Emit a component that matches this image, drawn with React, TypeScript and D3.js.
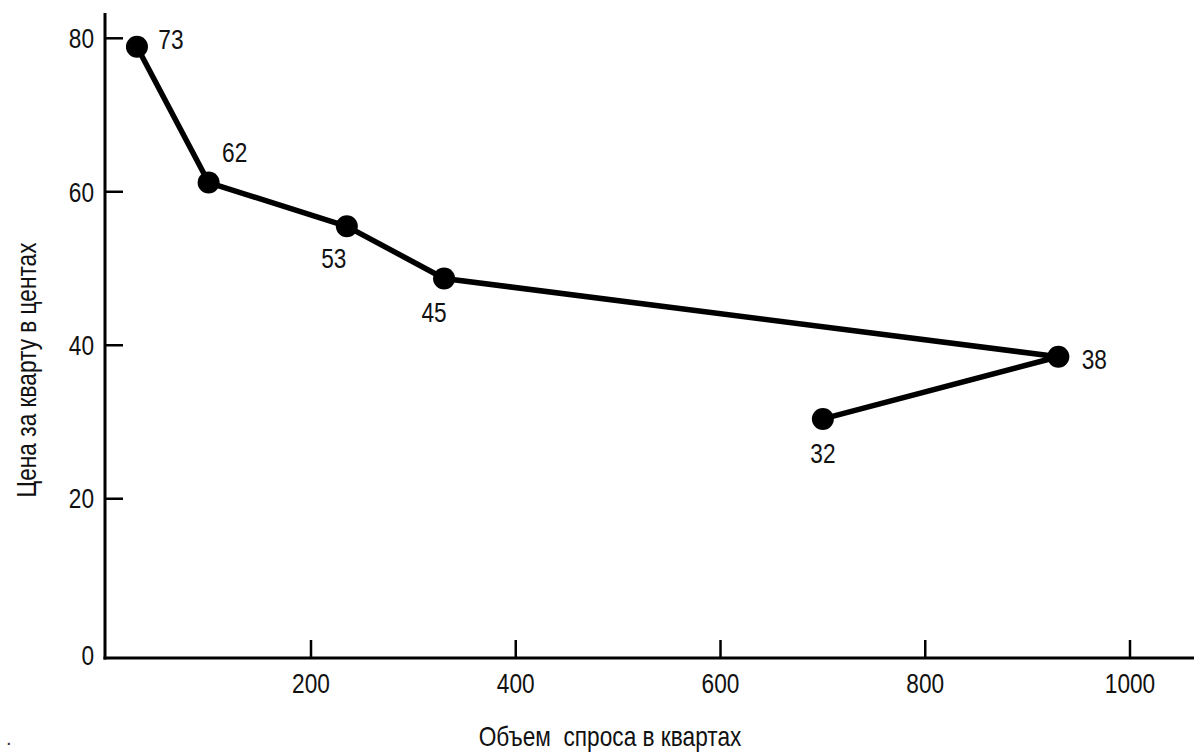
import React from "react";
import * as d3 from "d3";

const volumes = [30, 100, 235, 330, 930, 700];
const prices = [78.9, 61.2, 55.5, 48.7, 38.5, 30.4];
const pointLabels = ["73", "62", "53", "45", "38", "32"];
const labelOffsets: [number, number][] = [
  [34, -7],
  [26, -30],
  [-13, 32],
  [-10, 34],
  [36, 2],
  [0, 34],
];
const xTicks = [200, 400, 600, 800, 1000];
const yTicks = [0, 20, 40, 60, 80];
const xTitle = "Объем  спроса в квартах";
const yTitle = "Цена за кварту в центах";

const W = 1194;
const H = 752;
const FONT = "'Liberation Sans', Arial, sans-serif";
const FS = 27;
const SX = 0.84;

function NText(props: {
  x: number;
  y: number;
  rotate?: number;
  anchor?: "start" | "middle" | "end";
  central?: boolean;
  size?: number;
  children: React.ReactNode;
}) {
  const { x, y, rotate = 0, anchor = "middle", central = false, size = FS, children } = props;
  return (
    <text
      transform={`translate(${x},${y}) rotate(${rotate}) scale(${SX},1)`}
      textAnchor={anchor}
      dominantBaseline={central ? "central" : "auto"}
      fontSize={size}
      fill="#111"
      style={{ whiteSpace: "pre" }}
    >
      {children}
    </text>
  );
}

export default function App() {
  const x = d3.scaleLinear().domain([0, 1000]).range([106.25, 1130]);
  const y = d3.scaleLinear().domain([0, 80]).range([652.2, 38.3]);
  const axisY = 658;
  const axisX = 105;

  const pts = volumes.map((v, i) => ({ v, p: prices[i], label: pointLabels[i], off: labelOffsets[i] }));
  const line = d3
    .line<{ v: number; p: number }>()
    .x((d) => x(d.v))
    .y((d) => y(d.p));

  return (
    <svg
      width={W}
      height={H}
      style={{ position: "absolute", left: 0, top: 0, background: "#fff" }}
      fontFamily={FONT}
    >
      <rect width={W} height={H} fill="#fff" />
      {/* axes */}
      <line x1={axisX} y1={13} x2={axisX} y2={axisY + 1.5} stroke="#000" strokeWidth={3} />
      <line x1={axisX - 1.5} y1={axisY} x2={W} y2={axisY} stroke="#000" strokeWidth={3} />
      {xTicks.map((t) => (
        <g key={"xt" + t}>
          <line x1={x(t)} x2={x(t)} y1={axisY} y2={axisY - 18} stroke="#000" strokeWidth={2.5} />
          <NText x={x(t)} y={axisY + 35}>{String(t)}</NText>
        </g>
      ))}
      {yTicks.map((t) => (
        <g key={"yt" + t}>
          {t !== 0 && (
            <line x1={axisX} x2={axisX + 18} y1={y(t)} y2={y(t)} stroke="#000" strokeWidth={2.5} />
          )}
          <NText x={94} y={t === 0 ? 655 : y(t)} anchor="end" central>
            {String(t)}
          </NText>
        </g>
      ))}
      <NText x={610} y={746}>{xTitle}</NText>
      <NText x={26} y={370} rotate={-90} central>
        {yTitle}
      </NText>
      <text x={6} y={745} fontSize={20} fill="#333">.</text>
      {/* data */}
      <path d={line(pts) || ""} fill="none" stroke="#000" strokeWidth={5.5} strokeLinejoin="round" />
      {pts.map((d, i) => (
        <circle key={"c" + i} cx={x(d.v)} cy={y(d.p)} r={11} fill="#000" />
      ))}
      {pts.map((d, i) => (
        <NText key={"l" + i} x={x(d.v) + d.off[0]} y={y(d.p) + d.off[1]} central>
          {d.label}
        </NText>
      ))}
    </svg>
  );
}
